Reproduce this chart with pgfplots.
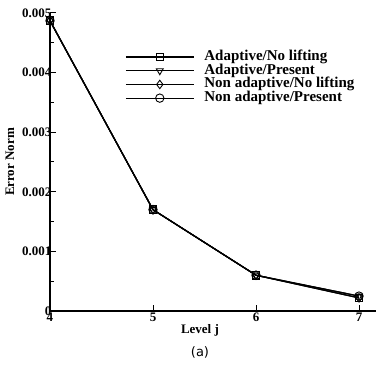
\documentclass[border=0pt]{standalone}
\usepackage{pgfplots}
\pgfplotsset{compat=1.18}
\usepackage{fontspec}
\setmainfont{Liberation Serif}
\newfontfamily\capfont{DejaVu Sans}
\begin{document}
\begin{tikzpicture}[x=1pt,y=1pt]
\begin{axis}[
  name=ax,
  at={(0,0)}, anchor=south west,
  scale only axis,
  width=326pt, height=298pt,
  xmin=4, xmax=7.165,
  ymin=0, ymax=0.005,
  axis x line=bottom, axis y line=left,
  axis line style={-, line width=1.3pt},
  xtick={4,5,6,7},
  ytick={0,0.001,0.002,0.003,0.004,0.005},
  yticklabels={0,0.001,0.002,0.003,0.004,0.005},
  minor y tick num=1,
  tick align=inside,
  major tick length=6pt, minor tick length=4pt,
  tick style={line width=1pt, black},
  scaled y ticks=false,
  /pgf/number format/assume math mode=true,
  tick label style={font=\fontsize{13}{14}\selectfont\bfseries, inner sep=0.5pt},
  yticklabel style={xshift=2pt},
  xticklabel style={yshift=-1pt},
  xlabel={Level j}, ylabel={Error Norm},
  label style={font=\fontsize{13}{14}\selectfont\bfseries},
  xlabel style={at={(axis description cs:0.46,0)}, anchor=center, yshift=-19pt},
  ylabel style={at={(axis description cs:-0.1227,0.5)}, anchor=center, rotate=0},
  legend style={draw=none, fill=none, at={(axis cs:4.728,0.00434)}, anchor=north west,
    font=\fontsize{15}{16}\selectfont\bfseries, row sep=4.7pt, column sep=10pt, inner sep=0pt,
    nodes={text height=8pt, text depth=1pt, inner sep=0pt}},
  legend cell align=left,
  legend image code/.code={
    \draw[#1, mark=none] (0pt,0pt) -- (68pt,0pt);
    \path[#1] plot coordinates {(34pt,0pt)};
  },
  clip=false,
]
\addplot[black, line width=1.2pt, mark=square, mark size=3.8pt, mark options={solid, fill=white, line width=0.9pt}] coordinates {(4,0.00487) (5,0.00170) (6,0.00060) (7,0.00022)};
\addlegendentry{Adaptive/No lifting}
\addplot[black, line width=1.2pt, mark=triangle, mark size=4pt, mark options={rotate=180, solid, fill=white, line width=0.9pt}] coordinates {(4,0.00487) (5,0.00170) (6,0.00060) (7,0.00025)};
\addlegendentry{Adaptive/Present}
\addplot[black, line width=1.2pt, mark=diamond, mark size=4.2pt, mark options={solid, fill=white, line width=0.9pt}] coordinates {(4,0.00487) (5,0.00170) (6,0.00060) (7,0.00022)};
\addlegendentry{Non adaptive/No lifting}
\addplot[black, line width=1.2pt, mark=o, mark size=4.2pt, mark options={solid, fill=white, line width=0.9pt}] coordinates {(4,0.00487) (5,0.00170) (6,0.00060) (7,0.00025)};
\addlegendentry{Non adaptive/Present}
\end{axis}
\node[font=\capfont\fontsize{13}{14}\selectfont] at (150pt,-41pt) {(a)};
\pgfresetboundingbox
\path[use as bounding box] (-50pt,-63pt) rectangle (326pt,311pt);
\end{tikzpicture}
\end{document}
